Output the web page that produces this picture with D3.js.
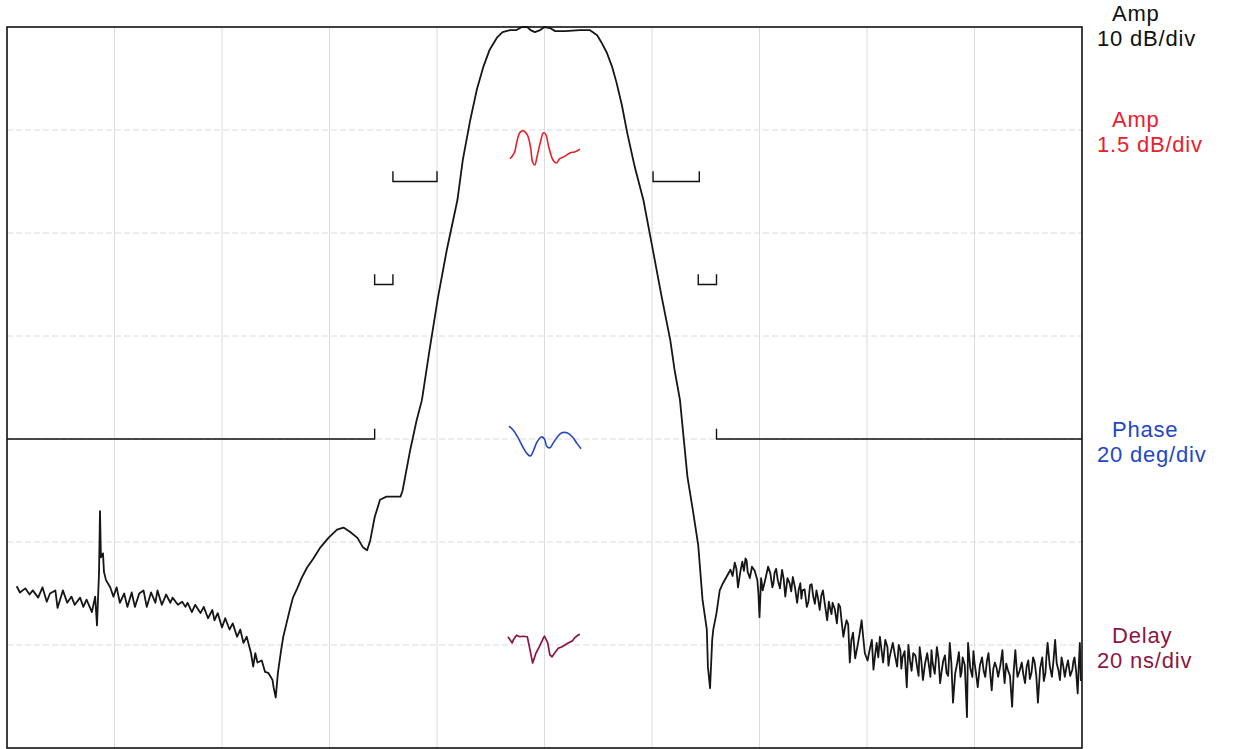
<!DOCTYPE html>
<html>
<head>
<meta charset="utf-8">
<script src="https://cdn.jsdelivr.net/npm/d3@7"></script>
<style>
  body { margin: 0; background: #fff; }
  svg { display: block; }
</style>
</head>
<body>
<div id="chart"></div>
<script>
// x in divisions (0..10 across the span), amplitude in dB (0 dB at the top line)
const ampTrace = [
  [0.09,-54.3],[0.12,-54.9],[0.17,-54.5],[0.21,-55.1],[0.24,-54.7],[0.29,-55.4],[0.33,-54.4],[0.37,-55.8],
  [0.40,-55.0],[0.45,-54.7],[0.47,-56.4],[0.52,-54.7],[0.56,-55.9],[0.60,-55.3],[0.63,-56.1],[0.68,-55.4],
  [0.71,-56.3],[0.74,-55.6],[0.79,-56.8],[0.82,-55.3],[0.837,-58.1],[0.856,-53.0],[0.865,-47.0],[0.874,-51.5],
  [0.893,-51.1],[0.902,-52.9],[0.921,-53.7],[0.96,-54.4],[0.99,-55.3],[1.02,-54.4],[1.05,-55.9],[1.09,-55.0],
  [1.12,-56.3],[1.16,-54.9],[1.19,-56.3],[1.23,-55.0],[1.27,-54.7],[1.30,-56.3],[1.34,-54.9],[1.38,-55.9],
  [1.40,-54.7],[1.44,-56.1],[1.48,-55.1],[1.52,-55.9],[1.54,-55.4],[1.59,-56.1],[1.63,-55.8],[1.66,-56.3],
  [1.68,-55.9],[1.72,-56.8],[1.75,-56.1],[1.80,-56.9],[1.83,-56.3],[1.87,-57.4],[1.91,-56.6],[1.93,-57.6],
  [1.96,-56.9],[2.00,-58.3],[2.03,-57.4],[2.07,-58.5],[2.10,-57.9],[2.14,-59.2],[2.17,-58.5],[2.20,-59.8],
  [2.23,-59.2],[2.27,-60.8],[2.29,-62.1],[2.31,-60.8],[2.33,-61.7],[2.37,-61.5],[2.40,-62.6],[2.43,-62.7],
  [2.47,-63.4],[2.48,-64.1],[2.50,-65.1],[2.52,-62.7],[2.55,-60.5],[2.57,-59.2],[2.60,-57.9],[2.63,-56.6],
  [2.66,-55.4],[2.70,-54.5],[2.74,-53.5],[2.79,-52.5],[2.85,-51.6],[2.91,-50.6],[2.99,-49.6],[3.07,-48.8],
  [3.13,-48.6],[3.19,-49.0],[3.26,-49.6],[3.31,-50.5],[3.35,-50.8],[3.38,-49.8],[3.42,-47.6],[3.47,-45.9],
  [3.53,-45.6],[3.66,-45.6],[3.68,-45.0],[3.75,-41.1],[3.81,-38.2],[3.86,-36.2],[3.93,-31.4],[4.01,-26.2],
  [4.09,-21.7],[4.19,-16.8],[4.24,-12.9],[4.31,-9.0],[4.37,-6.1],[4.43,-3.9],[4.49,-2.2],[4.56,-1.0],
  [4.61,-0.5],[4.68,-0.3],[4.74,-0.3],[4.79,0.0],[4.84,0.0],[4.87,-0.3],[4.91,-0.5],[4.96,-0.3],
  [5.00,0.0],[5.05,-0.1],[5.10,-0.4],[5.19,-0.4],[5.33,-0.3],[5.42,-0.3],[5.49,-0.8],[5.53,-1.5],
  [5.58,-2.5],[5.63,-3.9],[5.67,-5.4],[5.72,-7.6],[5.77,-10.3],[5.84,-13.6],[5.92,-16.8],[6.00,-21.2],
  [6.09,-26.2],[6.17,-30.4],[6.21,-33.3],[6.26,-36.2],[6.33,-43.7],[6.38,-46.9],[6.43,-50.3],[6.47,-55.6],
  [6.51,-58.5],[6.52,-62.1],[6.54,-64.2],[6.56,-59.5],[6.57,-58.5],[6.60,-56.9],[6.63,-54.7],[6.66,-54.0],
  [6.73,-52.7],[6.75,-53.3],[6.77,-52.0],[6.785,-52.6],[6.80,-54.4],[6.82,-53.0],[6.84,-51.9],[6.855,-52.8],
  [6.87,-51.6],[6.88,-51.8],[6.89,-52.9],[6.91,-53.5],[6.93,-52.4],[6.955,-52.8],[6.98,-53.7],[6.99,-55.0],
  [7.00,-57.3],[7.015,-53.5],[7.03,-54.7],[7.055,-53.6],[7.08,-52.4],[7.10,-53.0],[7.12,-54.4],[7.13,-54.0],
  [7.14,-53.0],[7.155,-52.6],[7.17,-53.7],[7.19,-54.5],[7.21,-52.7],[7.225,-53.6],[7.24,-55.3],[7.26,-53.5],
  [7.28,-54.0],[7.295,-54.8],[7.31,-53.4],[7.33,-54.4],[7.35,-55.9],[7.365,-54.6],[7.38,-54.0],[7.39,-55.5],
  [7.40,-54.7],[7.42,-54.6],[7.44,-56.3],[7.455,-55.8],[7.47,-54.2],[7.485,-54.1],[7.50,-55.3],[7.515,-56.0],
  [7.53,-54.7],[7.545,-55.5],[7.56,-56.6],[7.575,-55.2],[7.59,-54.7],[7.61,-56.2],[7.63,-57.6],[7.645,-55.8],
  [7.66,-56.6],[7.67,-57.0],[7.68,-55.9],[7.70,-56.5],[7.72,-57.9],[7.735,-56.0],[7.75,-56.3],[7.765,-57.8],
  [7.78,-59.2],[7.795,-58.3],[7.81,-57.6],[7.825,-58.0],[7.84,-61.7],[7.855,-59.5],[7.87,-58.8],[7.89,-61.3],
  [7.91,-60.2],[7.93,-59.0],[7.95,-57.6],[7.965,-59.3],[7.98,-60.8],[8.005,-61.5],[8.03,-60.2],[8.045,-59.5],
  [8.06,-62.4],[8.075,-61.0],[8.09,-59.8],[8.105,-61.2],[8.12,-59.2],[8.135,-60.5],[8.15,-61.7],[8.17,-59.5],
  [8.19,-60.2],[8.20,-62.0],[8.21,-61.2],[8.225,-60.5],[8.24,-59.8],[8.26,-61.0],[8.28,-62.1],[8.295,-60.0],
  [8.31,-60.5],[8.32,-62.3],[8.33,-61.2],[8.35,-60.6],[8.37,-64.1],[8.385,-60.0],[8.40,-61.5],[8.415,-62.5],
  [8.43,-60.8],[8.45,-61.0],[8.47,-62.4],[8.48,-63.0],[8.49,-60.2],[8.505,-61.5],[8.52,-63.4],[8.54,-61.8],
  [8.56,-60.8],[8.575,-61.9],[8.59,-63.1],[8.60,-60.5],[8.61,-61.7],[8.63,-62.8],[8.65,-60.2],[8.665,-61.3],
  [8.68,-63.7],[8.695,-62.5],[8.71,-61.5],[8.725,-61.0],[8.74,-62.7],[8.755,-63.0],[8.77,-59.8],[8.785,-61.8],
  [8.80,-65.6],[8.82,-62.8],[8.84,-61.7],[8.855,-60.7],[8.87,-63.1],[8.88,-62.6],[8.89,-61.2],[8.91,-62.0],
  [8.93,-67.0],[8.94,-59.8],[8.96,-62.2],[8.98,-63.1],[8.99,-60.6],[9.00,-61.7],[9.015,-62.8],[9.03,-64.1],
  [9.05,-62.0],[9.07,-61.2],[9.085,-62.5],[9.10,-63.1],[9.115,-61.6],[9.13,-60.8],[9.145,-62.6],[9.16,-64.4],
  [9.175,-62.3],[9.19,-61.7],[9.205,-62.2],[9.22,-63.1],[9.24,-62.0],[9.26,-60.5],[9.27,-62.4],[9.28,-63.7],
  [9.295,-61.8],[9.31,-62.4],[9.33,-63.0],[9.35,-66.0],[9.365,-62.5],[9.38,-60.5],[9.39,-62.0],[9.40,-63.1],
  [9.42,-62.5],[9.44,-61.7],[9.455,-62.9],[9.47,-63.7],[9.485,-62.1],[9.50,-61.5],[9.515,-63.3],[9.53,-62.7],
  [9.545,-61.2],[9.56,-61.7],[9.575,-63.0],[9.59,-65.6],[9.61,-62.3],[9.63,-61.2],[9.645,-63.5],[9.66,-62.7],
  [9.67,-61.0],[9.68,-59.8],[9.70,-62.0],[9.72,-63.1],[9.735,-61.5],[9.75,-59.5],[9.765,-61.8],[9.78,-62.4],
  [9.795,-63.4],[9.81,-61.2],[9.825,-62.0],[9.84,-63.1],[9.855,-62.2],[9.87,-61.5],[9.89,-63.0],[9.91,-62.4],
  [9.92,-61.6],[9.93,-61.2],[9.945,-62.5],[9.96,-64.7],[9.97,-62.0],[9.98,-59.8],[9.99,-63.5]
];

// passband amplitude, 1.5 dB/div
const ampFine = [
  [4.68,-1.92],[4.72,-1.83],[4.74,-1.69],[4.77,-1.54],[4.80,-1.51],[4.84,-1.57],[4.87,-1.75],
  [4.89,-1.97],[4.91,-2.01],[4.93,-1.89],[4.96,-1.69],[4.99,-1.54],[5.01,-1.56],[5.04,-1.75],
  [5.08,-1.94],[5.11,-1.98],[5.14,-1.92],[5.19,-1.88],[5.24,-1.83],[5.28,-1.82],[5.33,-1.78]
];

// phase deviation, 20 deg/div
const phaseTrace = [
  [4.67,2.5],[4.71,1.7],[4.75,0.4],[4.80,-1.6],[4.84,-2.9],[4.87,-3.3],[4.90,-2.1],[4.93,-0.6],
  [4.97,0.4],[5.00,0.0],[5.02,-1.4],[5.05,-1.7],[5.08,-0.8],[5.12,0.4],[5.16,1.2],[5.21,1.2],
  [5.26,0.4],[5.30,-0.8],[5.34,-1.9]
];

// group delay, 20 ns/div
const delayTrace = [
  [4.66,1.6],[4.70,0.4],[4.71,1.0],[4.74,1.9],[4.77,1.6],[4.80,1.7],[4.84,1.6],[4.86,-0.4],
  [4.88,-2.5],[4.89,-3.5],[4.92,-1.6],[4.95,-0.4],[4.99,1.4],[5.00,1.7],[5.03,0.4],[5.05,-1.9],
  [5.07,-2.3],[5.10,-1.4],[5.13,-0.6],[5.16,-0.4],[5.19,0.0],[5.22,0.4],[5.26,0.8],[5.28,1.4],
  [5.31,1.9],[5.33,2.1]
];

// rejection mask segments (dB)
const maskLines = [
  [[0,-40],[3.42,-40],[3.42,-39]],
  [[3.42,-24],[3.42,-25],[3.59,-25],[3.59,-24]],
  [[3.59,-14],[3.59,-15],[4.00,-15],[4.00,-14]],
  [[6.01,-14],[6.01,-15],[6.44,-15],[6.44,-14]],
  [[6.43,-24],[6.43,-25],[6.60,-25],[6.60,-24]],
  [[6.60,-39],[6.60,-40],[10,-40]]
];

const scaleLabels = [
  { name: "Amp", unit: "10 dB/div", color: "#111" },
  { name: "Amp", unit: "1.5 dB/div", color: "#e8202a" },
  { name: "Phase", unit: "20 deg/div", color: "#2447c8" },
  { name: "Delay", unit: "20 ns/div", color: "#8a1646" }
];

const margin = { top: 27, right: 153, bottom: 1, left: 7 };
const width = 1075;
const height = 721;

const x = d3.scaleLinear().domain([0, 10]).range([0, width]);
const yAmp = d3.scaleLinear().domain([-70, 0]).range([height, 0]);
const yFine = d3.scaleLinear().domain([-10.5, 0]).range([height, 0]);
const yPhase = d3.scaleLinear().domain([-60, 80]).range([height, 0]);
const yDelay = d3.scaleLinear().domain([-20, 120]).range([height, 0]);

const svg = d3.select("#chart")
    .append("svg")
    .attr("width", 1235)
    .attr("height", 749)
    .append("g")
    .attr("transform", `translate(${margin.left},${margin.top})`);

// grid
svg.selectAll(".vGrid")
    .data(d3.range(1, 10))
    .enter().append("line")
    .attr("class", "vGrid")
    .attr("x1", d => x(d))
    .attr("x2", d => x(d))
    .attr("y1", 0)
    .attr("y2", height)
    .attr("stroke", "#dcdcdc")
    .attr("stroke-width", 1);

svg.selectAll(".hGrid")
    .data(yAmp.ticks(7).filter(d => d > -70 && d < 0))
    .enter().append("line")
    .attr("class", "hGrid")
    .attr("x1", 0)
    .attr("x2", width)
    .attr("y1", d => yAmp(d))
    .attr("y2", d => yAmp(d))
    .attr("stroke", "#dcdcdc")
    .attr("stroke-dasharray", "6,3");

// frame
svg.append("rect")
    .attr("x", 0)
    .attr("y", 0)
    .attr("width", width)
    .attr("height", height)
    .attr("fill", "none")
    .attr("stroke", "#111")
    .attr("stroke-width", 1.6);

// limit mask
const maskLine = d3.line()
    .x(d => x(d[0]))
    .y(d => yAmp(d[1]));

svg.selectAll(".mask")
    .data(maskLines)
    .enter().append("path")
    .attr("class", "mask")
    .attr("fill", "none")
    .attr("stroke", "#111")
    .attr("stroke-width", 1.4)
    .attr("d", maskLine);

// traces
function drawTrace(data, yScale, color, w, curve) {
    const line = d3.line()
        .curve(curve || d3.curveLinear)
        .x(d => x(d[0]))
        .y(d => yScale(d[1]));
    svg.append("path")
        .datum(data)
        .attr("fill", "none")
        .attr("stroke", color)
        .attr("stroke-width", w)
        .attr("stroke-linejoin", "round")
        .attr("d", line);
}

drawTrace(ampTrace, yAmp, "#161616", 1.8);
drawTrace(ampFine, yFine, scaleLabels[1].color, 1.6, d3.curveCatmullRom);
drawTrace(phaseTrace, yPhase, scaleLabels[2].color, 1.6, d3.curveCatmullRom);
drawTrace(delayTrace, yDelay, scaleLabels[3].color, 1.7);

// scale labels on the right
const labelY = [yAmp(0) - 6, yFine(-1.5) - 3, yPhase(0) - 2, yDelay(0) - 2];

const labels = svg.selectAll(".scaleLabel")
    .data(scaleLabels)
    .enter().append("g")
    .attr("class", "scaleLabel")
    .attr("transform", (d, i) => `translate(${width + 15},${labelY[i]})`)
    .attr("fill", d => d.color)
    .style("font-family", "'Liberation Sans', Arial, sans-serif")
    .style("font-size", "22px")
    .style("letter-spacing", "0.8px");

labels.append("text")
    .attr("x", 15)
    .attr("y", 0)
    .text(d => d.name);

labels.append("text")
    .attr("x", 0)
    .attr("y", 25)
    .text(d => d.unit);
</script>
</body>
</html>
